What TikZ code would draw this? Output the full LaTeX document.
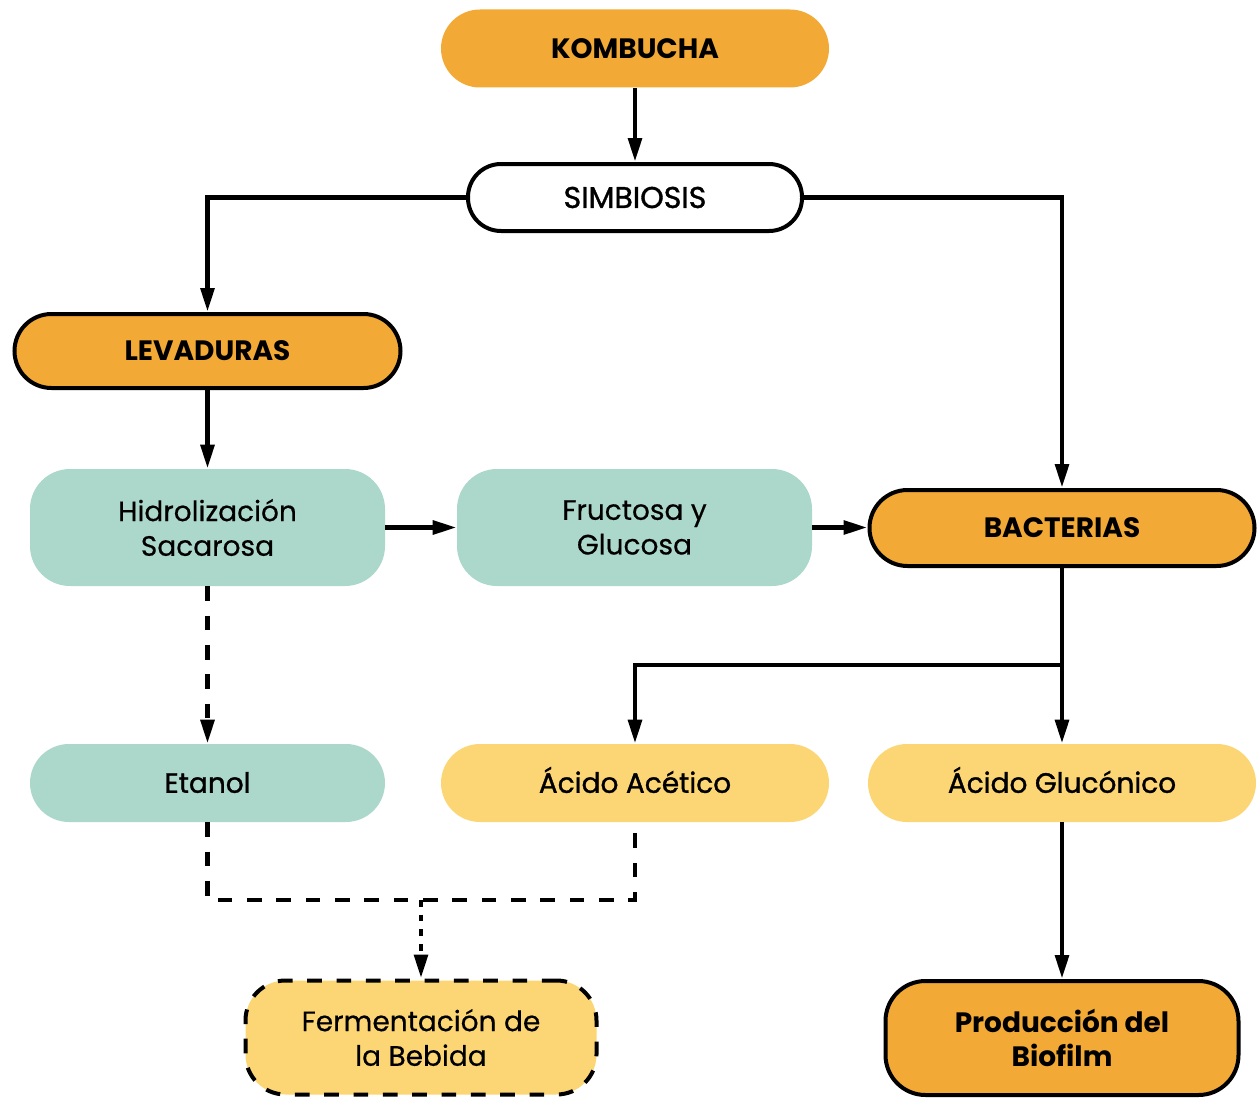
\documentclass[tikz,border=0pt]{standalone}
\usepackage{fontspec}
\setmainfont{Poppins}[FakeBold=0.5]
\newfontfamily\medfont{Poppins}[FakeBold=1.2]
\newfontfamily\boldfont{Poppins Bold}
\usetikzlibrary{arrows.meta}
\definecolor{orangeA}{RGB}{243,169,53}
\definecolor{tealA}{RGB}{172,216,203}
\definecolor{yellowA}{RGB}{252,214,117}
\begin{document}
\begin{tikzpicture}[x=0.75pt,y=-0.75pt,
  box/.style={align=center, inner sep=0pt, font=\fontsize{21}{26}\selectfont, text=black},
  pill/.style={box, minimum width=388*0.75pt, minimum height=78*0.75pt, rounded corners=39*0.75pt},
  tall/.style={box, minimum width=355*0.75pt, minimum height=117*0.75pt, rounded corners=40*0.75pt},
  outline/.style={draw=black, line width=3pt},
  title/.style={font=\fontsize{21}{26}\selectfont\boldfont},
  medium/.style={font=\fontsize{21}{26}\selectfont\medfont, text height=14.7pt, text depth=0pt},
  conn/.style={line width=3.6pt, -{Triangle[length=18pt,width=10pt]}},
  dashconn/.style={line width=3.6pt, dash pattern=on 11pt off 11pt},
  dotconn/.style={line width=3.6pt, dash pattern=on 5pt off 6pt},
]
\useasboundingbox (0,0) rectangle (1257,1099);

% nodes
\node[pill, title, fill=orangeA] (komb) at (635,48.5) {KOMBUCHA};
\node[pill, outline, fill=white, font=\fontsize{22.5}{26}\selectfont\medfont, minimum width=334*0.75pt, minimum height=67*0.75pt, rounded corners=33*0.75pt] (simb) at (635,197.5) {SIMBIOSIS};
\node[pill, title, outline, fill=orangeA, minimum width=386*0.75pt, minimum height=74*0.75pt, rounded corners=37*0.75pt] (lev) at (207.5,351) {LEVADURAS};
\node[tall, fill=tealA] (hidro) at (207.5,527.5) {Hidrolización\\Sacarosa};
\node[tall, fill=tealA] (fruc) at (634.5,527.5) {Fructosa y\\Glucosa};
\node[pill, title, outline, fill=orangeA, minimum width=385*0.75pt, minimum height=76*0.75pt, rounded corners=38*0.75pt] (bact) at (1062,528) {BACTERIAS};
\node[pill, medium, fill=tealA, minimum width=355*0.75pt] (etanol) at (207.5,783) {Etanol};
\node[pill, medium, fill=yellowA] (acet) at (635,783) {Ácido Acético};
\node[pill, medium, fill=yellowA] (gluc) at (1062,783) {Ácido Glucónico};
\node[tall, fill=yellowA, draw=black, line width=3pt, dash pattern=on 11pt off 11pt, minimum width=351*0.75pt, minimum height=114*0.75pt] (ferm) at (421,1037.5) {Fermentación de\\la Bebida};
\node[tall, title, outline, fill=orangeA, minimum width=353*0.75pt, minimum height=114*0.75pt] (bio) at (1062,1038) {Producción del\\Biofilm};

% junction points
\coordinate (split) at (1062,665);
\coordinate (join) at (421,900);

% connectors
\draw[conn] (komb) -- (simb);
\draw[conn] (simb.west) -| (lev.north);
\draw[conn] (simb.east) -| (bact.north);
\draw[conn] (lev) -- (hidro);
\draw[conn] (hidro) -- (fruc);
\draw[conn] (fruc.east) -- (fruc.east -| bact.west);
\draw[conn] (bact) -- (gluc);
\draw[conn] (split) -| (acet.north);
\draw[conn] (gluc) -- (bio);
\draw[dashconn, -{Triangle[length=18pt,width=10pt]}] (hidro) -- (etanol);
\draw[dashconn] (etanol.south) |- (join -| acet.south) -- (acet.south);
\draw[dotconn, -{Triangle[length=18pt,width=10pt]}] (join) -- (ferm.north);
\end{tikzpicture}
\end{document}
